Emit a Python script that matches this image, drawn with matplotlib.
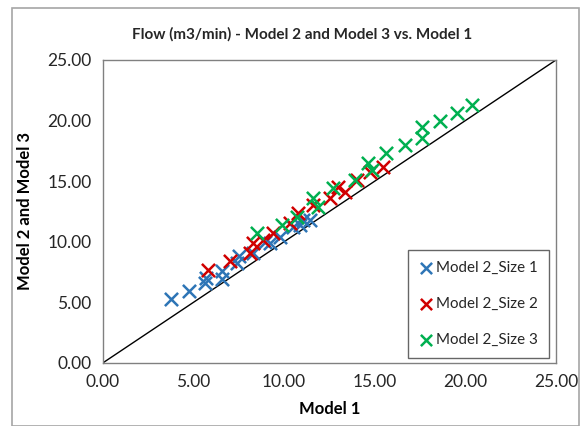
import numpy as np
import matplotlib.pyplot as plt
from matplotlib.patches import Rectangle

# values
size1_x = [3.75, 4.78, 5.64, 5.70, 6.56, 6.56, 7.39, 7.52, 8.31, 8.95, 9.23, 9.78, 10.51, 10.88, 11.07, 11.43]
size1_y = [5.26, 5.91, 6.57, 7.04, 6.96, 7.59, 8.23, 8.85, 9.10, 9.96, 9.88, 10.42, 11.25, 11.39, 11.80, 11.80]

size2_x = [5.83, 7.02, 8.12, 8.31, 8.86, 9.41, 10.33, 10.79, 11.62, 12.54, 13.00, 13.36, 14.01, 14.74, 15.48]
size2_y = [7.67, 8.44, 9.05, 9.88, 10.15, 10.70, 11.53, 12.35, 13.04, 13.59, 14.55, 14.13, 15.10, 15.78, 16.20]

size3_x = [8.49, 9.87, 10.70, 11.62, 11.89, 12.72, 13.92, 14.65, 14.83, 15.65, 16.67, 17.59, 17.59, 18.60, 19.53, 20.35]
size3_y = [10.70, 11.39, 12.07, 13.59, 12.90, 14.41, 15.10, 16.48, 15.92, 17.30, 17.99, 18.54, 19.50, 19.99, 20.65, 21.29]

series = [
    ("Model 2_Size 1", size1_x, size1_y, "#2E75B6"),
    ("Model 2_Size 2", size2_x, size2_y, "#D00000"),
    ("Model 2_Size 3", size3_x, size3_y, "#00B050"),
]

ticks = [0, 5, 10, 15, 20, 25]

plt.rcParams['font.family'] = ['Lato', 'DejaVu Sans']

fig = plt.figure(figsize=(5.81, 4.26), dpi=100)
ax = fig.add_axes([0.1768, 0.1479, 0.7802, 0.7113])

# outer chart border
fig.patches.append(Rectangle((12 / 581, 0), 567 / 581, 418 / 426, transform=fig.transFigure,
                             fill=False, edgecolor='#a6a6a6', linewidth=1.2))

ax.plot([0, 25], [0, 25], color='black', linewidth=1, zorder=1)

for name, xs, ys, col in series:
    ax.scatter(xs, ys, marker='x', s=90, linewidths=1.8, color=col, label=name, zorder=3)

ax.set_xlim(0, 25)
ax.set_ylim(0, 25)
ax.set_xticks(ticks)
ax.set_yticks(ticks)
ax.set_xticklabels([f"{t:.2f}" for t in ticks], fontsize=12.5)
ax.set_yticklabels([f"{t:.2f}" for t in ticks], fontsize=12.5)
ax.tick_params(length=0, pad=8, colors='#262626')

for sp in ax.spines.values():
    sp.set_color('#808080')
    sp.set_linewidth(1)

ax.set_xlabel("Model 1", fontsize=12, fontweight='bold', labelpad=8)
ax.set_ylabel("Model 2 and Model 3", fontsize=12, fontweight='bold', labelpad=10)
fig.text(0.52, 1 - 34 / 426, "Flow (m3/min) - Model 2 and Model 3 vs. Model 1",
         ha='center', va='center', fontsize=11, fontweight='bold', color='#262626')

leg = ax.legend(loc='lower right', bbox_to_anchor=(0.985, 0.015), fontsize=10.9,
                frameon=True, fancybox=False, edgecolor='#404040', handletextpad=0.2,
                labelspacing=1.45, borderpad=0.75, borderaxespad=0, handlelength=0.9,
                scatterpoints=1, markerscale=0.85)
leg.get_frame().set_linewidth(1)
for t in leg.get_texts():
    t.set_color('#262626')

fig.savefig("out.png", dpi=100)
